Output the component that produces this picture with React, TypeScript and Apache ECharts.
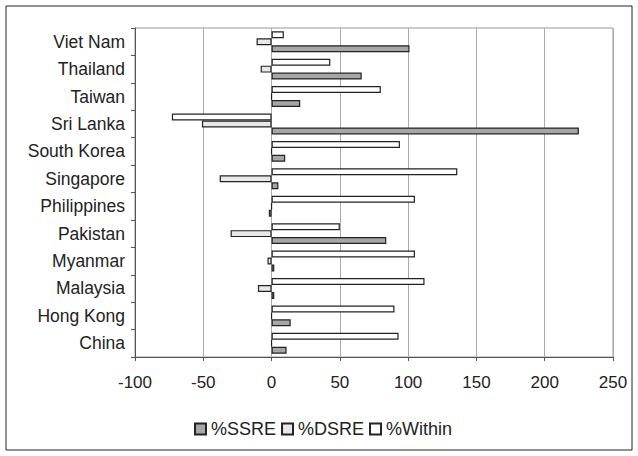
import React, { useEffect, useRef } from "react";
import * as echarts from "echarts";

const categories = ["China", "Hong Kong", "Malaysia", "Myanmar", "Pakistan", "Philippines", "Singapore", "South Korea", "Sri Lanka", "Taiwan", "Thailand", "Viet Nam"];
const ssre = [11, 14, 2, 2, 84, -2, 5, 10, 225, 21, 66, 101];
const dsre = [0, 0, -10, -3, -30, 0, -38, 0, -51, 0, -8, -11];
const within = [93, 90, 112, 105, 50, 105, 136, 94, -73, 80, 43, 9];
const legendNames = ["%SSRE", "%DSRE", "%Within"];
const xTicks = { min: -100, max: 250, interval: 50 };

export default function App() {
  const ref = useRef<HTMLDivElement>(null);
  useEffect(() => {
    const chart = echarts.init(ref.current!, null, { renderer: "svg" });
    const font = "'Liberation Sans', Arial, sans-serif";
    const barBase = { type: "bar", barGap: "0%", barCategoryGap: "24%", itemStyle: { borderColor: "#222", borderWidth: 1.2 } };
    chart.setOption({
      animation: false,
      backgroundColor: "#fff",
      textStyle: { fontFamily: font },
      graphic: [
        { type: "rect", shape: { x: 6, y: 6, width: 626, height: 444 }, style: { fill: "none", stroke: "#222", lineWidth: 1 } },
      ],
      grid: { left: 135, right: 25, top: 28, bottom: 99, show: true, borderColor: "#999", borderWidth: 1 },
      legend: {
        data: legendNames,
        icon: "rect",
        bottom: 13,
        left: 189,
        itemWidth: 11,
        itemHeight: 11,
        itemGap: 5,
        textStyle: { fontSize: 18, color: "#222", fontFamily: font, padding: [0, 0, 0, 0] },
      },
      xAxis: {
        type: "value",
        min: xTicks.min,
        max: xTicks.max,
        interval: xTicks.interval,
        axisLine: { show: true, lineStyle: { color: "#555" } },
        axisTick: { show: true, length: 4, inside: false, lineStyle: { color: "#555" } },
        axisLabel: { fontSize: 17, color: "#222", margin: 17, fontFamily: font },
        splitLine: { show: true, lineStyle: { color: "#aaa", width: 1 } },
      },
      yAxis: {
        type: "category",
        data: categories,
        axisLine: { show: true, onZero: false, lineStyle: { color: "#555" } },
        axisTick: { show: true, length: 4, lineStyle: { color: "#555" } },
        axisLabel: { fontSize: 17.5, color: "#222", margin: 10, fontFamily: font },
      },
      series: [
        { ...barBase, name: "%Within", data: within, itemStyle: { ...barBase.itemStyle, color: "#ffffff" } },
        { ...barBase, name: "%DSRE", data: dsre, itemStyle: { ...barBase.itemStyle, color: "#e8e8e8" } },
        { ...barBase, name: "%SSRE", data: ssre, itemStyle: { ...barBase.itemStyle, color: "#a6a6a6" } },
      ],
    });
    return () => chart.dispose();
  }, []);
  return <div ref={ref} style={{ width: 638, height: 456, position: "absolute", left: 0, top: 0 }} />;
}
